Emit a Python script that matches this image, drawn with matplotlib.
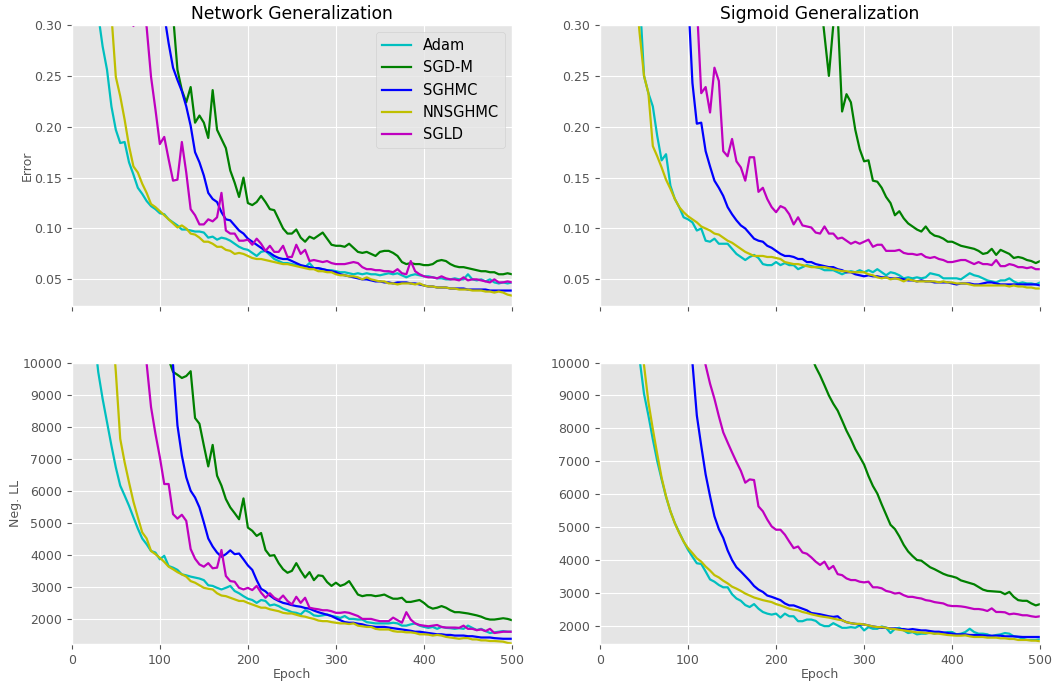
import numpy as np
import matplotlib
matplotlib.use("Agg")
import matplotlib.pyplot as plt

plt.style.use("ggplot")

# --- data: values, one point every 5 epochs ---
names = ["Adam", "SGD-M", "SGHMC", "NNSGHMC", "SGLD"]
colors = ["c", "g", "b", "y", "m"]

# Network, test error (first epoch of each series, then values)
net_err_start = [25, 110, 105, 45, 65]
net_err_adam = [0.36, 0.31, 0.279, 0.256, 0.220, 0.197, 0.184, 0.185, 0.165, 0.153, 0.140, 0.134, 0.127, 0.122, 0.119,
                0.115, 0.114, 0.109, 0.106, 0.103, 0.099, 0.099, 0.098, 0.097, 0.097, 0.096, 0.091, 0.092, 0.089, 0.091,
                0.090, 0.088, 0.085, 0.082, 0.080, 0.079, 0.076, 0.073, 0.077, 0.078, 0.074, 0.070, 0.068, 0.066, 0.066,
                0.065, 0.064, 0.063, 0.062, 0.066, 0.061, 0.061, 0.060, 0.059, 0.059, 0.058, 0.057, 0.057, 0.056, 0.055,
                0.056, 0.055, 0.056, 0.055, 0.055, 0.054, 0.055, 0.056, 0.055, 0.056, 0.054, 0.052, 0.054, 0.055, 0.054,
                0.053, 0.053, 0.052, 0.051, 0.051, 0.050, 0.050, 0.051, 0.050, 0.050, 0.055, 0.050, 0.049, 0.050, 0.048,
                0.050, 0.047, 0.046, 0.047, 0.046, 0.047]
net_err_sgdm = [0.34, 0.31, 0.256, 0.236, 0.224, 0.239, 0.204, 0.211, 0.204, 0.189, 0.236, 0.197, 0.188, 0.179, 0.157,
                0.145, 0.131, 0.150, 0.125, 0.123, 0.126, 0.132, 0.126, 0.119, 0.118, 0.109, 0.100, 0.095, 0.095, 0.099,
                0.091, 0.087, 0.092, 0.090, 0.093, 0.096, 0.090, 0.084, 0.083, 0.083, 0.082, 0.085, 0.081, 0.077, 0.076,
                0.077, 0.075, 0.073, 0.077, 0.078, 0.078, 0.076, 0.073, 0.067, 0.065, 0.066, 0.065, 0.065, 0.064, 0.064,
                0.065, 0.068, 0.069, 0.068, 0.065, 0.063, 0.062, 0.062, 0.061, 0.060, 0.059, 0.058, 0.058, 0.057, 0.057,
                0.055, 0.055, 0.056, 0.055]
net_err_sghmc = [0.31, 0.282, 0.258, 0.246, 0.235, 0.220, 0.201, 0.175, 0.165, 0.152, 0.135, 0.129, 0.126, 0.116, 0.109,
                 0.108, 0.103, 0.098, 0.095, 0.090, 0.087, 0.084, 0.081, 0.078, 0.076, 0.073, 0.071, 0.070, 0.070, 0.068,
                 0.066, 0.064, 0.063, 0.062, 0.061, 0.061, 0.060, 0.059, 0.058, 0.057, 0.055, 0.054, 0.053, 0.052, 0.051,
                 0.050, 0.050, 0.049, 0.048, 0.048, 0.047, 0.047, 0.046, 0.047, 0.047, 0.047, 0.046, 0.046, 0.045, 0.044,
                 0.043, 0.043, 0.042, 0.042, 0.042, 0.041, 0.041, 0.041, 0.041, 0.040, 0.040, 0.040, 0.040, 0.040, 0.039,
                 0.039, 0.039, 0.039, 0.039, 0.039]
net_err_nnsghmc = [0.31, 0.249, 0.230, 0.207, 0.181, 0.161, 0.155, 0.144, 0.135, 0.124, 0.121, 0.117, 0.113, 0.109,
                   0.105, 0.101, 0.103, 0.100, 0.095, 0.094, 0.091, 0.087, 0.087, 0.085, 0.082, 0.082, 0.079, 0.078,
                   0.075, 0.076, 0.075, 0.073, 0.071, 0.070, 0.070, 0.069, 0.068, 0.067, 0.066, 0.065, 0.065, 0.064,
                   0.063, 0.062, 0.061, 0.060, 0.060, 0.058, 0.058, 0.057, 0.057, 0.055, 0.054, 0.054, 0.053, 0.053,
                   0.052, 0.050, 0.052, 0.050, 0.049, 0.048, 0.048, 0.046, 0.046, 0.045, 0.046, 0.046, 0.046, 0.045,
                   0.046, 0.044, 0.043, 0.043, 0.042, 0.042, 0.042, 0.041, 0.041, 0.040, 0.040, 0.040, 0.039, 0.039,
                   0.039, 0.038, 0.038, 0.037, 0.038, 0.037, 0.035, 0.034]
net_err_sgld = [0.33, 0.299, 0.33, 0.32, 0.298, 0.249, 0.217, 0.183, 0.190, 0.168, 0.147, 0.148, 0.185, 0.155, 0.119,
                0.113, 0.104, 0.104, 0.109, 0.107, 0.111, 0.135, 0.098, 0.095, 0.095, 0.088, 0.088, 0.089, 0.084, 0.090,
                0.085, 0.078, 0.083, 0.077, 0.077, 0.083, 0.072, 0.072, 0.084, 0.075, 0.079, 0.068, 0.069, 0.068, 0.067,
                0.068, 0.066, 0.065, 0.065, 0.065, 0.066, 0.067, 0.066, 0.062, 0.060, 0.060, 0.059, 0.059, 0.058, 0.058,
                0.057, 0.060, 0.056, 0.055, 0.068, 0.058, 0.055, 0.053, 0.052, 0.052, 0.051, 0.053, 0.051, 0.050, 0.050,
                0.049, 0.052, 0.049, 0.050, 0.050, 0.049, 0.048, 0.047, 0.050, 0.047, 0.047, 0.048, 0.047]

# Sigmoid, test error
sig_err_start = [45, 250, 100, 40, 110]
sig_err_adam = [0.33, 0.250, 0.233, 0.220, 0.191, 0.167, 0.173, 0.142, 0.129, 0.121, 0.111, 0.109, 0.106, 0.098, 0.100,
                0.088, 0.087, 0.090, 0.085, 0.085, 0.085, 0.080, 0.075, 0.072, 0.069, 0.072, 0.074, 0.071, 0.065, 0.064,
                0.064, 0.067, 0.064, 0.066, 0.064, 0.064, 0.060, 0.062, 0.064, 0.063, 0.062, 0.061, 0.059, 0.059, 0.059,
                0.057, 0.055, 0.057, 0.058, 0.057, 0.059, 0.057, 0.059, 0.057, 0.060, 0.057, 0.054, 0.057, 0.056, 0.054,
                0.051, 0.052, 0.051, 0.052, 0.051, 0.052, 0.056, 0.055, 0.054, 0.051, 0.051, 0.051, 0.051, 0.050, 0.053,
                0.056, 0.054, 0.053, 0.051, 0.049, 0.048, 0.047, 0.049, 0.049, 0.051, 0.048, 0.046, 0.047, 0.046, 0.046,
                0.045, 0.047]
sig_err_sgdm = [0.33, 0.29, 0.250, 0.300, 0.31, 0.215, 0.232, 0.224, 0.197, 0.178, 0.166, 0.167, 0.147, 0.146, 0.140,
                0.131, 0.125, 0.113, 0.117, 0.110, 0.105, 0.102, 0.099, 0.097, 0.102, 0.096, 0.093, 0.092, 0.090, 0.087,
                0.087, 0.085, 0.083, 0.082, 0.081, 0.080, 0.078, 0.075, 0.076, 0.080, 0.074, 0.079, 0.077, 0.075, 0.071,
                0.072, 0.071, 0.069, 0.068, 0.066, 0.068]
sig_err_sghmc = [0.33, 0.243, 0.203, 0.204, 0.176, 0.161, 0.147, 0.140, 0.132, 0.121, 0.114, 0.108, 0.103, 0.100, 0.095,
                 0.090, 0.088, 0.087, 0.083, 0.081, 0.078, 0.075, 0.073, 0.073, 0.072, 0.070, 0.070, 0.067, 0.067, 0.065,
                 0.064, 0.063, 0.062, 0.062, 0.060, 0.059, 0.057, 0.057, 0.055, 0.054, 0.053, 0.054, 0.053, 0.053, 0.052,
                 0.052, 0.051, 0.051, 0.051, 0.050, 0.049, 0.049, 0.048, 0.049, 0.048, 0.048, 0.047, 0.047, 0.047, 0.047,
                 0.046, 0.045, 0.046, 0.046, 0.046, 0.045, 0.045, 0.046, 0.047, 0.047, 0.046, 0.045, 0.045, 0.045, 0.045,
                 0.045, 0.045, 0.045, 0.045, 0.045, 0.044]
sig_err_nnsghmc = [0.34, 0.292, 0.250, 0.233, 0.181, 0.171, 0.160, 0.148, 0.139, 0.129, 0.121, 0.116, 0.112, 0.109,
                   0.106, 0.102, 0.100, 0.098, 0.095, 0.094, 0.091, 0.088, 0.086, 0.083, 0.080, 0.077, 0.075, 0.073,
                   0.073, 0.073, 0.072, 0.072, 0.071, 0.070, 0.067, 0.066, 0.065, 0.065, 0.064, 0.063, 0.062, 0.062,
                   0.062, 0.062, 0.061, 0.060, 0.059, 0.058, 0.058, 0.057, 0.057, 0.057, 0.057, 0.055, 0.054, 0.052,
                   0.051, 0.052, 0.050, 0.051, 0.050, 0.048, 0.050, 0.049, 0.048, 0.048, 0.048, 0.048, 0.048, 0.047,
                   0.048, 0.047, 0.047, 0.046, 0.046, 0.046, 0.045, 0.044, 0.044, 0.044, 0.044, 0.044, 0.044, 0.044,
                   0.044, 0.043, 0.044, 0.043, 0.043, 0.042, 0.042, 0.041, 0.041]
sig_err_sgld = [0.32, 0.233, 0.239, 0.214, 0.258, 0.245, 0.176, 0.171, 0.188, 0.166, 0.160, 0.147, 0.170, 0.170, 0.136,
                0.140, 0.129, 0.121, 0.116, 0.122, 0.120, 0.114, 0.104, 0.111, 0.103, 0.102, 0.101, 0.096, 0.095, 0.102,
                0.095, 0.095, 0.090, 0.091, 0.088, 0.085, 0.087, 0.085, 0.087, 0.089, 0.082, 0.084, 0.084, 0.078, 0.078,
                0.078, 0.079, 0.076, 0.075, 0.075, 0.074, 0.075, 0.072, 0.071, 0.072, 0.070, 0.069, 0.067, 0.067, 0.068,
                0.069, 0.069, 0.067, 0.065, 0.067, 0.065, 0.065, 0.064, 0.069, 0.063, 0.063, 0.065, 0.064, 0.062, 0.062,
                0.061, 0.062, 0.060, 0.060]

# Network, negative log likelihood
net_nll_start = [25, 105, 110, 45, 80]
net_nll_adam = [11000, 9710, 8870, 8140, 7410, 6730, 6160, 5850, 5530, 5170, 4820, 4510, 4330, 4120, 4070, 3860, 3970,
                3650, 3600, 3530, 3390, 3360, 3320, 3290, 3260, 3210, 3050, 3030, 2970, 2920, 2970, 3030, 2870, 2800,
                2710, 2630, 2590, 2500, 2590, 2560, 2420, 2450, 2400, 2320, 2270, 2210, 2190, 2140, 2270, 2210, 2110,
                2090, 2110, 2140, 2090, 2070, 2030, 2090, 2000, 2000, 1980, 1980, 1900, 1880, 1860, 1860, 1860, 1860,
                1880, 1860, 1790, 1790, 1830, 1860, 1790, 1750, 1720, 1750, 1690, 1750, 1720, 1710, 1690, 1710, 1690,
                1790, 1720, 1650, 1690, 1620, 1560, 1580, 1600, 1620, 1600, 1600]
net_nll_sgdm = [10600, 10100, 9710, 9620, 9520, 9580, 9730, 8270, 8090, 7410, 6760, 7430, 6470, 6160, 5740, 5480, 5300,
                5110, 5760, 4850, 4750, 4590, 4680, 4150, 3970, 3990, 3740, 3550, 3440, 3500, 3740, 3500, 3290, 3460,
                3210, 3360, 3340, 3150, 3030, 3130, 3030, 3080, 3180, 2970, 2760, 2710, 2740, 2740, 2710, 2730, 2760,
                2690, 2630, 2630, 2660, 2530, 2530, 2560, 2590, 2500, 2380, 2320, 2350, 2400, 2350, 2270, 2210, 2210,
                2190, 2170, 2140, 2110, 2070, 2010, 1980, 1980, 2000, 2020, 2000, 1960]
net_nll_sghmc = [12000, 9920, 8040, 7100, 6420, 6000, 5790, 5480, 5010, 4510, 4260, 4070, 3940, 4020, 4140, 4020, 4040,
                 3860, 3670, 3530, 3210, 2940, 2860, 2730, 2630, 2560, 2500, 2470, 2430, 2400, 2380, 2340, 2320, 2260,
                 2210, 2170, 2130, 2090, 2020, 1960, 1900, 1880, 1880, 1850, 1830, 1790, 1770, 1750, 1750, 1750, 1730,
                 1710, 1690, 1670, 1650, 1630, 1600, 1600, 1580, 1560, 1540, 1520, 1520, 1500, 1500, 1480, 1480, 1480,
                 1460, 1460, 1440, 1420, 1420, 1420, 1400, 1390, 1380, 1380, 1380]
net_nll_nnsghmc = [11500, 9710, 7620, 6890, 6260, 5660, 5170, 4700, 4510, 4120, 4020, 3910, 3780, 3630, 3550, 3460,
                   3390, 3320, 3180, 3130, 3050, 2970, 2940, 2920, 2800, 2730, 2710, 2660, 2610, 2560, 2560, 2500, 2450,
                   2400, 2350, 2350, 2300, 2270, 2240, 2190, 2170, 2170, 2130, 2090, 2070, 2030, 2000, 1950, 1930, 1930,
                   1900, 1880, 1860, 1860, 1840, 1860, 1790, 1770, 1750, 1750, 1690, 1670, 1670, 1670, 1620, 1600, 1600,
                   1580, 1580, 1560, 1520, 1520, 1510, 1480, 1500, 1480, 1440, 1420, 1400, 1380, 1400, 1400, 1360, 1360,
                   1330, 1330, 1310, 1310, 1300, 1290, 1250, 1230]
net_nll_sgld = [11000, 9970, 8610, 7780, 7050, 6210, 6210, 5270, 5130, 5250, 5060, 4180, 3880, 3700, 3630, 3740, 3580,
                3600, 4150, 3340, 3180, 3160, 2970, 2920, 2970, 2900, 3030, 2820, 2660, 2800, 2660, 2590, 2730, 2560,
                2450, 2690, 2500, 2660, 2350, 2320, 2300, 2270, 2270, 2240, 2190, 2190, 2210, 2190, 2140, 2090, 2000,
                2000, 2000, 1960, 1930, 1930, 1930, 2040, 1960, 1880, 2210, 1980, 1860, 1810, 1790, 1770, 1790, 1810,
                1750, 1730, 1730, 1730, 1720, 1790, 1690, 1690, 1650, 1670, 1620, 1690, 1560, 1580, 1600, 1600, 1600]

# Sigmoid, negative log likelihood
sig_nll_start = [45, 240, 100, 45, 115]
sig_nll_adam = [10100, 9050, 8390, 7670, 7010, 6450, 5920, 5480, 5120, 4840, 4560, 4310, 4100, 3900, 3880, 3650, 3410,
                3340, 3240, 3170, 3170, 2960, 2830, 2760, 2630, 2570, 2660, 2520, 2420, 2370, 2340, 2370, 2250, 2370,
                2290, 2290, 2140, 2140, 2190, 2190, 2150, 2040, 1990, 1990, 2080, 2010, 1940, 1940, 1960, 1940, 2010,
                1860, 1960, 1910, 1910, 1980, 1940, 1780, 1910, 1940, 1860, 1780, 1810, 1740, 1760, 1760, 1800, 1760,
                1810, 1780, 1810, 1810, 1740, 1760, 1810, 1910, 1810, 1760, 1760, 1740, 1680, 1720, 1740, 1780, 1760,
                1680, 1660, 1610, 1570, 1570, 1570, 1590]
sig_nll_sgdm = [10200, 9870, 9610, 9310, 9000, 8750, 8540, 8240, 7930, 7670, 7370, 7140, 6900, 6550, 6250, 6020, 5690,
                5380, 5070, 4940, 4720, 4460, 4260, 4120, 4000, 3980, 3880, 3780, 3720, 3650, 3580, 3530, 3500, 3460,
                3380, 3340, 3300, 3260, 3180, 3100, 3060, 3050, 3040, 3030, 2960, 3030, 2880, 2780, 2760, 2760, 2680,
                2620, 2660, 2570]
sig_nll_sghmc = [11500, 10000, 8390, 7470, 6600, 5940, 5330, 4940, 4670, 4290, 4000, 3780, 3650, 3510, 3370, 3210, 3100,
                 3030, 2920, 2880, 2830, 2780, 2680, 2620, 2620, 2570, 2520, 2470, 2390, 2370, 2350, 2320, 2290, 2270,
                 2290, 2170, 2110, 2080, 2060, 2040, 2040, 2010, 1980, 1960, 1940, 1940, 1920, 1920, 1900, 1900, 1880,
                 1900, 1880, 1860, 1860, 1840, 1820, 1820, 1800, 1780, 1760, 1740, 1740, 1740, 1720, 1720, 1720, 1710,
                 1700, 1700, 1700, 1700, 1680, 1680, 1680, 1670, 1660, 1660, 1660, 1660, 1660]
sig_nll_nnsghmc = [11000, 9920, 8800, 7980, 7220, 6500, 5940, 5480, 5120, 4820, 4560, 4360, 4210, 4050, 3950, 3800,
                   3680, 3540, 3470, 3370, 3290, 3190, 3130, 3060, 2980, 2920, 2860, 2820, 2780, 2750, 2720, 2660, 2620,
                   2570, 2520, 2490, 2470, 2420, 2390, 2350, 2320, 2290, 2270, 2250, 2220, 2190, 2170, 2110, 2080, 2060,
                   2060, 2040, 2010, 1980, 1960, 1960, 1940, 1910, 1900, 1880, 1860, 1840, 1820, 1800, 1800, 1780, 1780,
                   1760, 1760, 1740, 1720, 1710, 1700, 1700, 1710, 1680, 1660, 1660, 1660, 1640, 1640, 1640, 1620, 1620,
                   1600, 1600, 1570, 1570, 1570, 1550, 1550, 1530]
sig_nll_sgld = [10600, 9920, 9360, 8900, 8370, 7880, 7570, 7270, 6980, 6710, 6350, 6450, 6430, 5630, 5480, 5230, 5020,
                4920, 4920, 4770, 4560, 4360, 4410, 4230, 4190, 4080, 3950, 3850, 3950, 3720, 3820, 3570, 3540, 3440,
                3390, 3390, 3340, 3320, 3340, 3170, 3170, 3140, 3060, 3030, 2980, 3000, 2930, 2880, 2880, 2850, 2830,
                2780, 2760, 2720, 2700, 2680, 2620, 2600, 2600, 2590, 2570, 2540, 2510, 2510, 2490, 2450, 2530, 2420,
                2420, 2410, 2350, 2370, 2350, 2320, 2320, 2290, 2270, 2290]

panels = [
    (net_err_start, [net_err_adam, net_err_sgdm, net_err_sghmc, net_err_nnsghmc, net_err_sgld]),
    (sig_err_start, [sig_err_adam, sig_err_sgdm, sig_err_sghmc, sig_err_nnsghmc, sig_err_sgld]),
    (net_nll_start, [net_nll_adam, net_nll_sgdm, net_nll_sghmc, net_nll_nnsghmc, net_nll_sgld]),
    (sig_nll_start, [sig_nll_adam, sig_nll_sgdm, sig_nll_sghmc, sig_nll_nnsghmc, sig_nll_sgld]),
]

fig, axes = plt.subplots(2, 2, figsize=(10.56, 6.85), dpi=100, sharex=True)
fig.subplots_adjust(left=0.068, right=0.985, top=0.9635, bottom=0.06, wspace=0.2, hspace=0.2)

for ax, (starts, series) in zip(axes.flat, panels):
    for name, col, st, vals in zip(names, colors, starts, series):
        ep = st + 5 * np.arange(len(vals))
        ax.plot(ep, vals, color=col, lw=1.6, label=name)
    ax.set_xlim(0, 500)
    ax.tick_params(labelsize=9, colors="#555555")

for ax in axes[0]:
    ax.set_ylim(0.0235, 0.30)
    ax.set_yticks(np.arange(0.05, 0.301, 0.05))
    ax.yaxis.set_major_formatter(matplotlib.ticker.FormatStrFormatter("%.2f"))
axes[1, 0].set_ylim(1220, 10000)
axes[1, 1].set_ylim(1450, 10000)
for ax in axes[1]:
    ax.set_yticks(np.arange(2000, 10001, 1000))
    ax.set_xticks(np.arange(0, 501, 100))
    ax.set_xlabel("Epoch", fontsize=9, color="#555555", labelpad=1)

axes[0, 0].set_title("Network Generalization", fontsize=12.3, color="black", pad=4)
axes[0, 1].set_title("Sigmoid Generalization", fontsize=12.3, color="black", pad=4)
axes[0, 0].set_ylabel("Error", fontsize=9, color="#555555", labelpad=0.5)
axes[1, 0].set_ylabel("Neg. LL", fontsize=9, color="#555555", labelpad=0.5)

axes[0, 0].legend(loc="upper right", fontsize=10.5)

fig.savefig("out.png", dpi=100)
